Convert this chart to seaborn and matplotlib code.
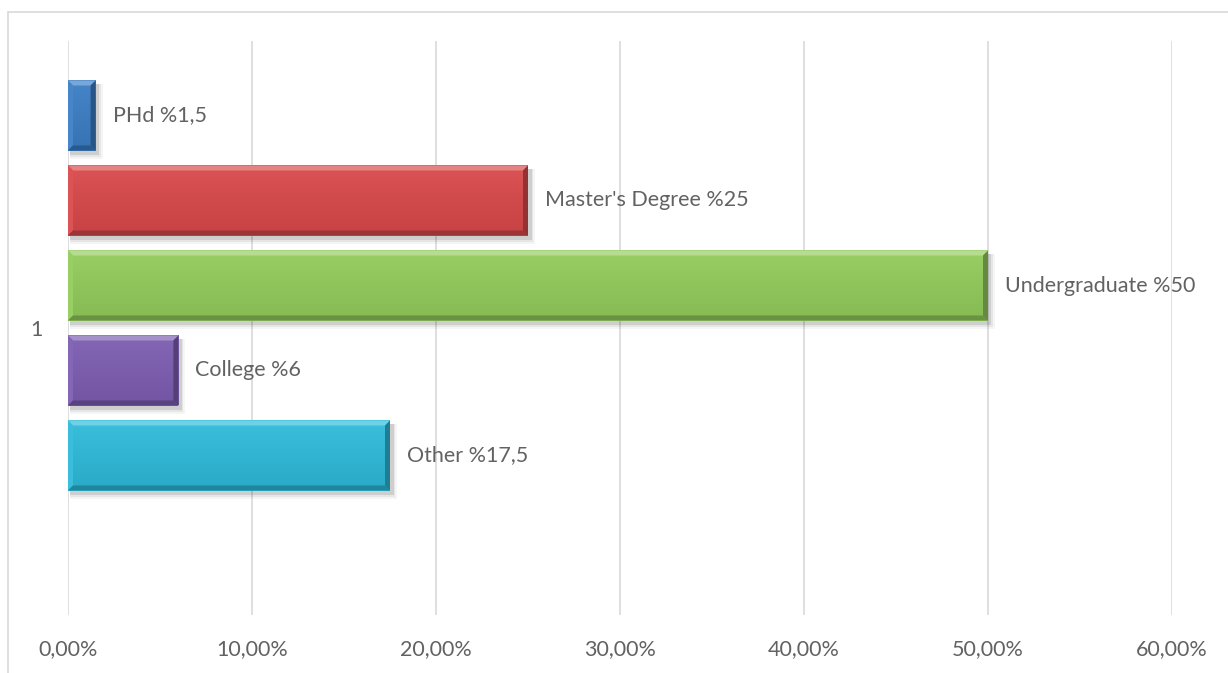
import numpy as np
import pandas as pd
import matplotlib
matplotlib.use("Agg")
import matplotlib.pyplot as plt
import matplotlib.colors as mcolors
from matplotlib.patches import Polygon, Rectangle
from matplotlib.lines import Line2D
import seaborn as sns

# ---- data ----
category = ["1", "1", "1", "1", "1", "1"]
series = ["PHd", "Master's Degree", "Undergraduate", "College", "Other", "blank"]
values = [0.015, 0.25, 0.50, 0.06, 0.175, 0.0]
value_text = ["%1,5", "%25", "%50", "%6", "%17,5", ""]
colors = ["#3A7DC4", "#D94849", "#92CB5B", "#7C5CB1", "#2DBAD9", "#FFFFFF"]
xticks = [0.0, 0.1, 0.2, 0.3, 0.4, 0.5, 0.6]
xtick_labels = ["0,00%", "10,00%", "20,00%", "30,00%", "40,00%", "50,00%", "60,00%"]

sns.set_theme(style="white")
plt.rcParams["font.family"] = ["Lato", "DejaVu Sans"]

W, H = 1228, 673
fig = plt.figure(figsize=(W / 100, H / 100), dpi=100)
L, R, T, B = 68, 1172, 41, 615
ax = fig.add_axes([L / W, 1 - B / H, (R - L) / W, (B - T) / H])

df = pd.DataFrame({"cat": category, "series": series, "value": values})
pal = dict(zip(series, colors))
sns.barplot(data=df, x="value", y="cat", hue="series", hue_order=series,
            palette=pal, orient="y", width=6 * 85 / 574, gap=15 / 85,
            linewidth=0, saturation=1, legend=False, ax=ax, zorder=3)

ax.set_xlim(0, 0.6)
ax.set_ylim(0.5, -0.5)
ax.set_xticks(xticks)
ax.set_xticklabels(xtick_labels)
ax.set_xlabel("")
ax.set_ylabel("")
ax.grid(axis="x", color="#D9D9D9", linewidth=1.2, zorder=0)
ax.grid(axis="y", visible=False)
for s in ax.spines.values():
    s.set_visible(False)
TXT = "#626262"
ax.tick_params(axis="both", length=0, labelsize=15.5, labelcolor=TXT)
ax.tick_params(axis="x", pad=17)
ax.tick_params(axis="y", pad=18)

# pixel -> data conversions
px_x = 0.6 / (R - L)
px_y = 1.0 / (B - T)

def shade(c, f):
    rgb = np.array(mcolors.to_rgb(c))
    if f > 0:
        rgb = rgb + (1 - rgb) * f
    else:
        rgb = rgb * (1 + f)
    return tuple(np.clip(rgb, 0, 1))

patches = [p for p in ax.patches if isinstance(p, Rectangle)]
for p, name, txt, col, v in zip(patches, series, value_text, colors, values):
    if v <= 0:
        continue
    x0 = p.get_x()
    w = p.get_width()
    y0 = p.get_y()
    h = p.get_height()
    x1 = x0 + w
    y1 = y0 + h  # larger y = lower on screen (inverted axis)
    # soft shadow
    for k, a in [(7, 0.04), (5, 0.06), (3.5, 0.10)]:
        ax.add_patch(Rectangle((x0 + 2 * px_x, y0 + 3 * px_y), w + k * px_x - 2 * px_x,
                               h + k * px_y - 2 * px_y, facecolor="#000000", alpha=a,
                               linewidth=0, zorder=2))
    d = min(5, w / px_x / 2.5)
    dx, dy = d * px_x, d * px_y
    # smooth vertical gradient on the face
    grad = np.linspace(0, 1, 64)[:, None]
    c_top = np.array(shade(col, 0.06))
    c_bot = np.array(shade(col, -0.08))
    img = c_top[None, None, :] * (1 - grad[..., None]) + c_bot[None, None, :] * grad[..., None]
    ax.imshow(img, extent=(x0, x1, y1, y0), aspect="auto", zorder=3.5,
              interpolation="bilinear")
    top = [(x0, y0), (x1, y0), (x1 - dx, y0 + dy), (x0 + dx, y0 + dy)]
    bot = [(x0, y1), (x1, y1), (x1 - dx, y1 - dy), (x0 + dx, y1 - dy)]
    lft = [(x0, y0), (x0 + dx, y0 + dy), (x0 + dx, y1 - dy), (x0, y1)]
    rgt = [(x1, y0), (x1 - dx, y0 + dy), (x1 - dx, y1 - dy), (x1, y1)]
    ax.add_patch(Polygon(top, closed=True, facecolor=shade(col, 0.32), linewidth=0, zorder=4))
    ax.add_patch(Polygon(lft, closed=True, facecolor=shade(col, 0.06), linewidth=0, zorder=4))
    ax.add_patch(Polygon(bot, closed=True, facecolor=shade(col, -0.28), linewidth=0, zorder=4))
    ax.add_patch(Polygon(rgt, closed=True, facecolor=shade(col, -0.32), linewidth=0, zorder=4))
    ax.text(x1 + 17 * px_x, y0 + h / 2, f"{name} {txt}", ha="left", va="center",
            fontsize=15.5, color=TXT, zorder=5)

ax.set_xlim(0, 0.6)
ax.set_ylim(0.5, -0.5)

# figure frame (left and top edges)
fig.add_artist(Line2D([8 / W, 8 / W], [0, 1 - 12 / H], transform=fig.transFigure,
                      color="#D9D9D9", linewidth=1.2))
fig.add_artist(Line2D([8 / W, 1], [1 - 12 / H, 1 - 12 / H], transform=fig.transFigure,
                      color="#D9D9D9", linewidth=1.2))

fig.savefig("out.png", dpi=100, facecolor="white")
